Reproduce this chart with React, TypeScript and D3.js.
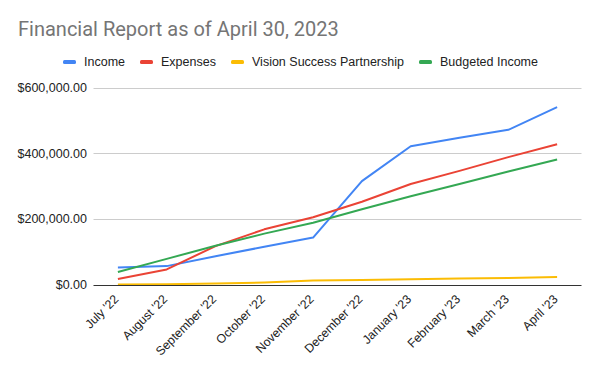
import React, { useEffect, useRef } from "react";
import * as d3 from "d3";

const months = [
  "July '22",
  "August '22",
  "September '22",
  "October '22",
  "November '22",
  "December '22",
  "January '23",
  "February '23",
  "March '23",
  "April '23",
];
const income = [52000, 56000, 86000, 115000, 143000, 315000, 421000, 447000, 471000, 540000];
const expenses = [17000, 46000, 117000, 168000, 205000, 252000, 306000, 346000, 388000, 427000];
const visionSuccess = [0, 1000, 3000, 6000, 12000, 14000, 16000, 18000, 20000, 23000];
const budgetedIncome = [38000, 78000, 118000, 155000, 188000, 229000, 269000, 306000, 344000, 381000];
const yTicks = [0, 200000, 400000, 600000];

const seriesNames = ["Income", "Expenses", "Vision Success Partnership", "Budgeted Income"];
const seriesColors = ["#4285F4", "#EA4335", "#FBBC04", "#34A853"];

const W = 600;
const H = 371;
const FONT = "'Liberation Sans', Arial, sans-serif";
const TITLE_FONT = "Roboto, Arial, sans-serif";

const App: React.FC = () => {
  const svgRef = useRef<SVGSVGElement | null>(null);

  useEffect(() => {
    const svg = d3.select(svgRef.current);
    svg.selectAll("*").remove();

    const margin = { top: 87.5, right: 18.5, bottom: 86.5, left: 93.5 };

    const x = d3
      .scalePoint<string>()
      .domain(months)
      .range([margin.left, W - margin.right])
      .padding(0.5);

    const y = d3
      .scaleLinear()
      .domain([0, 600000])
      .range([H - margin.bottom, margin.top]);

    // title
    svg
      .append("text")
      .attr("x", 18)
      .attr("y", 36)
      .attr("font-family", TITLE_FONT)
      .attr("font-size", 20)
      .attr("fill", "#757575")
      .text("Financial Report as of April 30, 2023");

    // grid
    svg
      .append("g")
      .selectAll("line")
      .data(yTicks.filter((t) => t > 0))
      .join("line")
      .attr("x1", margin.left)
      .attr("x2", W - margin.right)
      .attr("y1", (d) => Math.round(y(d)) + 0.5)
      .attr("y2", (d) => Math.round(y(d)) + 0.5)
      .attr("stroke", "#cccccc");

    // y labels
    svg
      .append("g")
      .selectAll("text")
      .data(yTicks)
      .join("text")
      .attr("x", 87)
      .attr("y", (d) => y(d) + 4.5)
      .attr("text-anchor", "end")
      .attr("font-family", FONT)
      .attr("font-size", 12.5)
      .attr("fill", "#222")
      .text((d) => "$" + d3.format(",.2f")(d));

    // lines
    const allSeries = [income, expenses, visionSuccess, budgetedIncome];
    const line = d3
      .line<number>()
      .x((_, i) => x(months[i]) as number)
      .y((d) => y(d));

    allSeries.forEach((s, i) => {
      svg
        .append("path")
        .datum(s)
        .attr("d", line)
        .attr("fill", "none")
        .attr("stroke", seriesColors[i])
        .attr("stroke-width", 2)
        .attr("stroke-linejoin", "round");
    });

    // baseline
    svg
      .append("line")
      .attr("x1", margin.left)
      .attr("x2", W - margin.right)
      .attr("y1", Math.round(y(0)) + 0.5)
      .attr("y2", Math.round(y(0)) + 0.5)
      .attr("stroke", "#333");

    // x labels
    svg
      .append("g")
      .selectAll("text")
      .data(months)
      .join("text")
      .attr("text-anchor", "end")
      .attr("font-family", FONT)
      .attr("font-size", 12.3)
      .attr("fill", "#222")
      .attr(
        "transform",
        (d) => `translate(${(x(d) as number) + 1.5},${y(0) + 15.5}) rotate(-45)`
      )
      .text((d) => d);

    // legend
    const legendX = [63, 140, 231, 419];
    const legend = svg
      .append("g")
      .selectAll("g")
      .data(seriesNames)
      .join("g")
      .attr("transform", (_, i) => `translate(${legendX[i]},62)`);
    legend
      .append("rect")
      .attr("x", 0)
      .attr("y", -2)
      .attr("width", 13)
      .attr("height", 4)
      .attr("rx", 1.5)
      .attr("fill", (_, i) => seriesColors[i]);
    legend
      .append("text")
      .attr("x", 21)
      .attr("y", 4.4)
      .attr("font-family", FONT)
      .attr("font-size", 12.5)
      .attr("fill", "#222")
      .text((d) => d);
  }, []);

  return (
    <svg
      ref={svgRef}
      width={W}
      height={H}
      style={{ position: "absolute", left: 0, top: 0, background: "#fff" }}
    />
  );
};

export default App;
